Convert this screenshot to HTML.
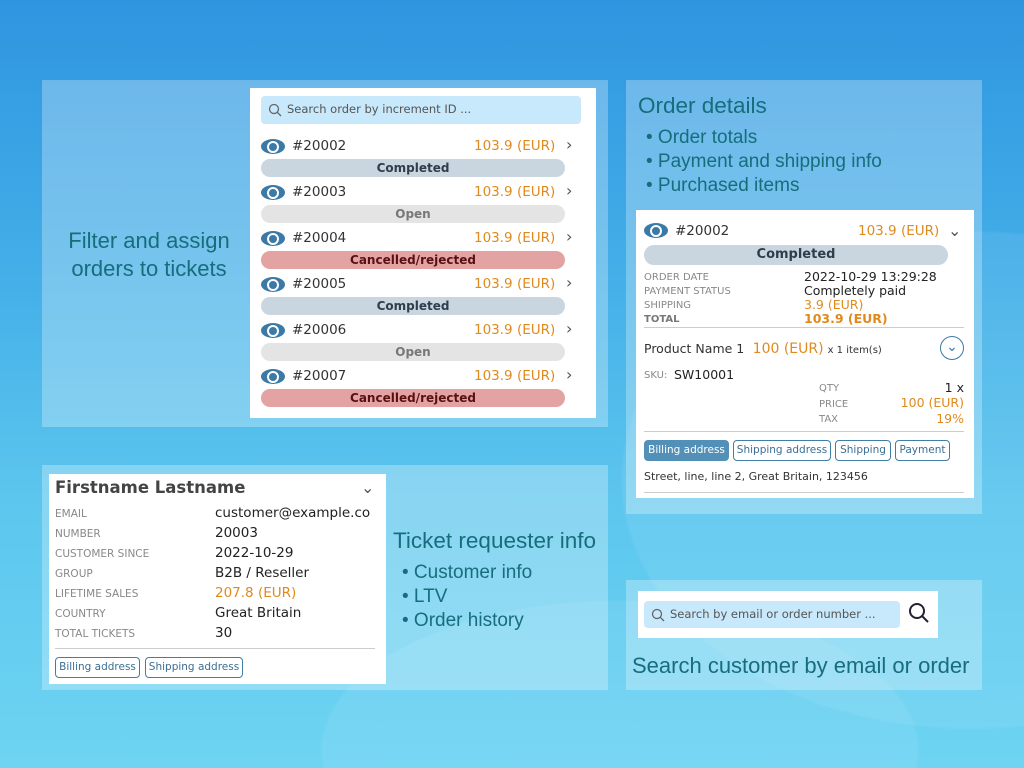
<!DOCTYPE html>
<html style="width:1024px;height:768px;overflow:hidden"><head><meta charset="utf-8"><style>
*{margin:0;padding:0;box-sizing:border-box}
html{background:#2f95e0}
body{width:1024px;height:768px;overflow:hidden;position:relative;font-family:"DejaVu Sans","Liberation Sans",sans-serif;
background:
radial-gradient(ellipse 350px 250px at 970px 480px,rgba(255,255,255,0.07) 99%,rgba(255,255,255,0) 100%),
radial-gradient(ellipse 300px 150px at 620px 750px,rgba(255,255,255,0.07) 99%,rgba(255,255,255,0) 100%),
linear-gradient(180deg,#2f95e0 0%,#43aee8 35%,#5cc6ee 65%,#6ed4f2 100%);}
.a{position:absolute;white-space:nowrap}
.panel{position:absolute;background:rgba(255,255,255,0.28);}
.card{position:absolute;background:#fff}
.cap{position:absolute;color:#166e7c;font-family:"Liberation Sans",sans-serif;font-weight:300;white-space:nowrap}
.eye{position:absolute;width:24px;height:15px;background:#3b79a6;border-radius:50%}
.eye:after{content:"";position:absolute;left:6px;top:2px;width:8px;height:8px;border:2px solid #fff;border-radius:50%;background:#3b79a6}
.num{position:absolute;font-size:13.5px;color:#333}
.pr{position:absolute;font-size:13.5px;color:#e08a1e}
.chev{position:absolute;font-size:16px;color:#555}
.badge{position:absolute;height:18px;border-radius:9px;text-align:center;font-size:12px;font-weight:bold;line-height:18px}
.c{background:#c9d5df;color:#2f3e4d}
.o{background:#e4e4e4;color:#777}
.x{background:#e3a3a3;color:#5a1010}
.lbl{position:absolute;font-size:10px;color:#888;white-space:nowrap}
.val{position:absolute;font-size:13px;color:#222;white-space:nowrap}
.btn{position:absolute;height:21px;border:1px solid #3f7fa6;border-radius:4px;font-size:10.5px;color:#3a6f94;line-height:19px;text-align:center}
</style></head><body>

<div class="panel" style="left:42px;top:80px;width:566px;height:347px"></div>
<div class="cap" style="left:42px;top:227px;width:214px;text-align:center;font-size:22px;line-height:28px">Filter and assign<br>orders to tickets</div>
<div class="card" style="left:250px;top:88px;width:346px;height:330px">
  <div class="a" style="left:11px;top:8px;width:320px;height:28px;background:#c8e8fb;border-radius:4px"></div>
  <svg class="a" style="left:18px;top:15px" width="14" height="14"><circle cx="6" cy="6" r="4.5" fill="none" stroke="#666" stroke-width="1.3"/><line x1="9.3" y1="9.3" x2="13" y2="13" stroke="#666" stroke-width="1.3"/></svg>
  <div class="a" style="left:37px;top:14px;font-size:11.5px;color:#555">Search order by increment ID ...</div>
</div>
<div id="ol"></div>

<div class="panel" style="left:626px;top:80px;width:356px;height:434px"></div>
<div class="cap" style="left:638px;top:93px;font-size:22.5px">Order details</div>
<div class="cap" style="left:646px;top:126px;font-size:19px;line-height:24px">• Order totals<br>• Payment and shipping info<br>• Purchased items</div>
<div class="card" style="left:636px;top:210px;width:338px;height:288px"></div>
<div class="eye" style="left:644px;top:223px"></div>
<div class="num" style="left:675px;top:223px">#20002</div>
<div class="pr" style="left:858px;top:223px">103.9 (EUR)</div>
<div class="chev" style="left:948px;top:221px">⌄</div>
<div class="badge c" style="left:644px;top:245px;width:304px;height:20px;line-height:20px;border-radius:10px;font-size:13px">Completed</div>
<div class="lbl" style="left:644px;top:272px">ORDER DATE</div>
<div class="lbl" style="left:644px;top:286px">PAYMENT STATUS</div>
<div class="lbl" style="left:644px;top:300px">SHIPPING</div>
<div class="lbl" style="left:644px;top:314px;font-weight:bold;color:#777">TOTAL</div>
<div class="val" style="left:804px;top:269px;font-size:12.5px">2022-10-29 13:29:28</div>
<div class="val" style="left:804px;top:283px;font-size:12.5px">Completely paid</div>
<div class="val" style="left:804px;top:297px;font-size:12.5px;color:#e08a1e">3.9 (EUR)</div>
<div class="val" style="left:804px;top:311px;font-size:12.5px;color:#e08a1e;font-weight:bold">103.9 (EUR)</div>
<div class="a" style="left:644px;top:327px;width:320px;height:1px;background:#ccc"></div>
<div class="val" style="left:644px;top:341px;font-size:12.5px;color:#333">Product Name 1 <span style="color:#e08a1e;font-size:14px">&nbsp;100 (EUR)</span> <span style="font-size:10px">x 1 item(s)</span></div>
<div class="a" style="left:940px;top:336px;width:24px;height:24px;border:1.5px solid #3b79a6;border-radius:50%;color:#3b79a6;text-align:center;font-size:14px;line-height:20px">⌄</div>
<div class="lbl" style="left:644px;top:370px">SKU:</div>
<div class="val" style="left:674px;top:367px;font-size:12.5px">SW10001</div>
<div class="lbl" style="left:819px;top:383px">QTY</div>
<div class="lbl" style="left:819px;top:399px">PRICE</div>
<div class="lbl" style="left:819px;top:414px">TAX</div>
<div class="val" style="left:940px;top:380px;width:24px;text-align:right;font-size:12.5px">1 x</div>
<div class="val" style="left:864px;top:395px;width:100px;text-align:right;font-size:12.5px;color:#e08a1e">100 (EUR)</div>
<div class="val" style="left:904px;top:411px;width:60px;text-align:right;font-size:12.5px;color:#e08a1e">19%</div>
<div class="a" style="left:644px;top:431px;width:320px;height:1px;background:#ccc"></div>
<div class="btn" style="left:644px;top:440px;width:85px;background:#5390b8;color:#fff;border-color:#5390b8">Billing address</div>
<div class="btn" style="left:733px;top:440px;width:98px">Shipping address</div>
<div class="btn" style="left:835px;top:440px;width:56px">Shipping</div>
<div class="btn" style="left:895px;top:440px;width:55px">Payment</div>
<div class="val" style="left:644px;top:470px;font-size:11px;color:#333">Street, line, line 2, Great Britain, 123456</div>
<div class="a" style="left:644px;top:492px;width:320px;height:1px;background:#ccc"></div>

<div class="panel" style="left:42px;top:465px;width:566px;height:225px"></div>
<div class="card" style="left:49px;top:474px;width:337px;height:210px"></div>
<div class="a" style="left:55px;top:478px;font-size:16.5px;font-weight:bold;color:#444">Firstname Lastname</div>
<div class="chev" style="left:361px;top:478px">⌄</div>
<div id="cu"></div>
<div class="a" style="left:55px;top:648px;width:320px;height:1px;background:#ccc"></div>
<div class="btn" style="left:55px;top:657px;width:85px">Billing address</div>
<div class="btn" style="left:145px;top:657px;width:98px">Shipping address</div>
<div class="cap" style="left:393px;top:528px;font-size:22.5px">Ticket requester info</div>
<div class="cap" style="left:402px;top:561px;font-size:19px;line-height:24px">• Customer info<br>• LTV<br>• Order history</div>

<div class="panel" style="left:626px;top:580px;width:356px;height:110px"></div>
<div class="card" style="left:638px;top:591px;width:300px;height:47px"></div>
<div class="a" style="left:644px;top:601px;width:256px;height:27px;background:#c8e8fb;border-radius:4px"></div>
<svg class="a" style="left:651px;top:608px" width="14" height="14"><circle cx="6" cy="6" r="4.5" fill="none" stroke="#666" stroke-width="1.3"/><line x1="9.3" y1="9.3" x2="13" y2="13" stroke="#666" stroke-width="1.3"/></svg>
<div class="a" style="left:670px;top:607px;font-size:11.5px;color:#555">Search by email or order number ...</div>
<svg class="a" style="left:908px;top:602px" width="22" height="22"><circle cx="9" cy="9" r="7" fill="none" stroke="#223" stroke-width="2"/><line x1="14" y1="14" x2="20" y2="20" stroke="#223" stroke-width="2"/></svg>
<div class="cap" style="left:632px;top:653px;font-size:22px">Search customer by email or order</div>

<script>
var h='';var rows=[['#20002','c','Completed'],['#20003','o','Open'],['#20004','x','Cancelled/rejected'],['#20005','c','Completed'],['#20006','o','Open'],['#20007','x','Cancelled/rejected']];
rows.forEach(function(r,i){var y=138+i*46;
h+='<div class="eye" style="left:261px;top:'+(y+1)+'px"></div><div class="num" style="left:292px;top:'+y+'px">'+r[0]+'</div><div class="pr" style="left:474px;top:'+y+'px">103.9 (EUR)</div><div class="chev" style="left:566px;top:'+(y-3)+'px">›</div><div class="badge '+r[1]+'" style="left:261px;top:'+(y+21)+'px;width:304px">'+r[2]+'</div>';});
document.getElementById('ol').innerHTML=h;
var c=[['EMAIL','customer@example.co'],['NUMBER','20003'],['CUSTOMER SINCE','2022-10-29'],['GROUP','B2B / Reseller'],['LIFETIME SALES','207.8 (EUR)'],['COUNTRY','Great Britain'],['TOTAL TICKETS','30']];
h='';c.forEach(function(r,i){var y=505+i*20;h+='<div class="lbl" style="left:55px;top:'+(y+3)+'px;font-size:10.5px">'+r[0]+'</div><div class="val" style="left:215px;top:'+y+'px;font-size:13.5px'+(i==4?';color:#e08a1e':'')+'">'+r[1]+'</div>';});
document.getElementById('cu').innerHTML=h;
</script>
</body></html>
